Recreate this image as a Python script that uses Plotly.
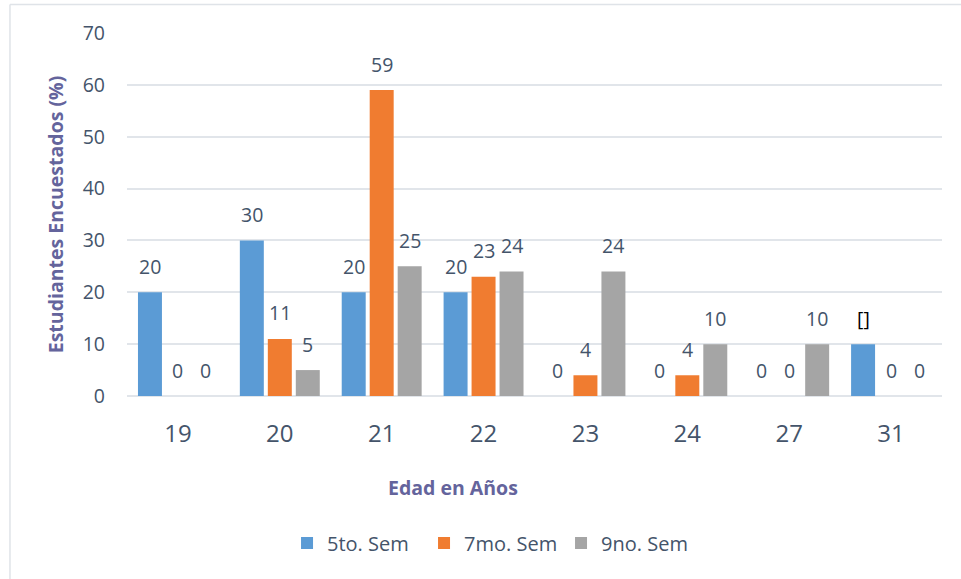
import plotly.graph_objects as go

categories = ["19", "20", "21", "22", "23", "24", "27", "31"]
series_names = ["5to. Sem", "7mo. Sem", "9no. Sem"]
sem5 = [20, 30, 20, 20, 0, 0, 0, 10]
sem7 = [0, 11, 59, 23, 4, 4, 0, 0]
sem9 = [0, 5, 25, 24, 24, 10, 10, 0]
labels5 = ["20", "30", "20", "20", "0", "0", "0", "[]"]
labels7 = [str(v) for v in sem7]
labels9 = [str(v) for v in sem9]
y_ticks = [0, 10, 20, 30, 40, 50, 60, 70]

colors = ["#5b9bd5", "#f07c30", "#a5a5a5"]
FONT = "Open Sans"
TXT = "#44546a"
TITLE_C = "#64649c"

fig = go.Figure()
all_vals = [sem5, sem7, sem9]
all_labels = [labels5, labels7, labels9]
for name, vals, col in zip(series_names, all_vals, colors):
    fig.add_trace(go.Bar(x=categories, y=vals, name=name, marker=dict(color=col, line=dict(width=0))))

slot_px = 28
annotations = []
for i, (vals, labs) in enumerate(zip(all_vals, all_labels)):
    for ci, (v, t) in enumerate(zip(vals, labs)):
        annotations.append(dict(
            x=ci, y=v, xref="x", yref="y", text=t, showarrow=False,
            xshift=(i - 1) * slot_px, yshift=26, yanchor="middle",
            font=dict(family=FONT, size=19.5, color="#000000" if t == "[]" else TXT)))

annotations.append(dict(
    x=0.4, y=-0.2507, xref="paper", yref="paper", text="<b>Edad en Años</b>",
    showarrow=False, xanchor="center", yanchor="middle",
    font=dict(family=FONT, size=19.5, color=TITLE_C)))

shapes = [
    dict(type="line", xref="paper", yref="paper", x0=-0.1436, x1=1.1, y0=1.0785, y1=1.0785,
         line=dict(color="#dfe3e8", width=1.5)),
    dict(type="line", xref="paper", yref="paper", x0=-0.1436, x1=-0.1436, y0=1.0785, y1=-0.7,
         line=dict(color="#dfe3e8", width=1.5)),
]

fig.update_layout(
    width=961, height=579,
    margin=dict(l=127, r=19, t=33, b=183),
    paper_bgcolor="white", plot_bgcolor="white",
    barmode="group", bargap=0.176, bargroupgap=0.143,
    font=dict(family=FONT, color=TXT),
    showlegend=True,
    legend=dict(orientation="h", x=0.4485, xanchor="center", y=-0.405, yanchor="middle",
                font=dict(family=FONT, size=20, color=TXT), itemwidth=30,
                entrywidth=92, entrywidthmode="pixels",
                traceorder="normal"),
    annotations=annotations,
    shapes=shapes,
    xaxis=dict(type="category", showgrid=False, showline=False, zeroline=False, automargin=False,
               range=[-0.5, len(categories) - 0.5],
               tickfont=dict(family=FONT, size=24, color=TXT), ticklabelstandoff=21),
    yaxis=dict(range=[0, 70], tickvals=y_ticks, showgrid=True, gridcolor="#e1e5ea", gridwidth=1.5,
               zeroline=True, zerolinecolor="#e1e5ea", zerolinewidth=1.5, showline=False,
               automargin=False,
               tickfont=dict(family=FONT, size=19.5, color=TXT), ticklabelstandoff=21,
               title=dict(text="<b>Estudiantes Encuestados (%)</b>", standoff=13,
                          font=dict(family=FONT, size=19.5, color=TITLE_C))),
)

fig.write_html("out.html", config={"displayModeBar": False},
               post_script="document.body.style.margin='0';document.body.style.overflow='hidden';")
